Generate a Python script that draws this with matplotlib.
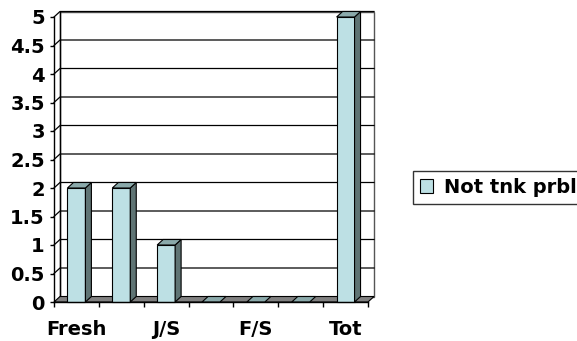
import numpy as np
import matplotlib.pyplot as plt
from matplotlib.patches import Polygon, Patch

# chart data
categories = ["Fresh", "", "J/S", "", "F/S", "", "Tot"]
values = [2, 2, 1, 0, 0, 0, 5]
series_name = "Not tnk prbl"
y_ticks = np.arange(0, 5.5, 0.5)

# colours of the 3d bar faces
front_color = "#bde0e4"
side_color = "#5f7474"
top_color = "#8aa9aa"
floor_color = "#808080"

W, H = 577, 341
fig = plt.figure(figsize=(W / 100, H / 100), dpi=100)
ax = fig.add_axes([54 / W, 39 / H, 314 / W, 285 / H])
n = len(categories)
ax.set_xlim(0, n)
ax.set_ylim(0, 5)
ax.set_facecolor("none")

# depth offset, converted from pixels to data units
dx = 6 / (314 / n)
dy = 5.5 / (285 / 5)


def poly(pts, fc, z, ec="black", lw=0.8):
    ax.add_patch(Polygon(pts, closed=True, facecolor=fc, edgecolor=ec,
                         lw=lw, zorder=z, clip_on=False))


# back wall and gridlines
poly([(dx, dy), (n + dx, dy), (n + dx, 5 + dy), (dx, 5 + dy)], "white", 0.5, ec="#555555", lw=1)
ax.plot([dx, dx], [dy, 5 + dy], color="black", lw=1, zorder=1, clip_on=False)
for v in y_ticks[1:]:
    ax.plot([0, dx, n + dx], [v, v + dy, v + dy], color="black", lw=0.9,
            zorder=1, clip_on=False)

# floor
poly([(0, 0), (n, 0), (n + dx, dy), (dx, dy)], floor_color, 2)

# bars
for i, v in enumerate(values):
    x0, x1 = i + 0.3, i + 0.7
    if v > 0:
        poly([(x0, 0), (x1, 0), (x1, v), (x0, v)], front_color, 3)
        poly([(x1, 0), (x1 + dx, dy), (x1 + dx, v + dy), (x1, v)], side_color, 3)
    poly([(x0, v), (x1, v), (x1 + dx, v + dy), (x0 + dx, v + dy)], top_color, 3)

# axes
for s in ["top", "right"]:
    ax.spines[s].set_visible(False)
for s in ["left", "bottom"]:
    ax.spines[s].set_color("black")
    ax.spines[s].set_linewidth(1)
    ax.spines[s].set_zorder(5)

ax.set_yticks(y_ticks)
ax.set_yticklabels([f"{t:g}" for t in y_ticks], fontsize=14, fontweight="bold")
ax.tick_params(axis="y", length=3, width=1, pad=3.6)

ax.set_xticks(np.arange(0, n + 1))
ax.set_xticklabels([])
ax.set_xticks(np.arange(n) + 0.5, minor=True)
ax.set_xticklabels(categories, minor=True, fontsize=14, fontweight="bold")
ax.tick_params(axis="x", which="major", length=3.6, width=1)
ax.tick_params(axis="x", which="minor", length=0, pad=13)

leg = fig.legend(handles=[Patch(facecolor=front_color, edgecolor="black", lw=0.8, label=series_name)],
                 loc="center left", bbox_to_anchor=(413 / W, 1 - 187.5 / H),
                 frameon=True, fancybox=False, edgecolor="black", borderpad=0.35,
                 handlelength=0.7, handleheight=0.7, handletextpad=0.55,
                 borderaxespad=0, prop=dict(weight="bold", size=14))
leg.get_frame().set_linewidth(1)

fig.savefig("out.png", dpi=100)
